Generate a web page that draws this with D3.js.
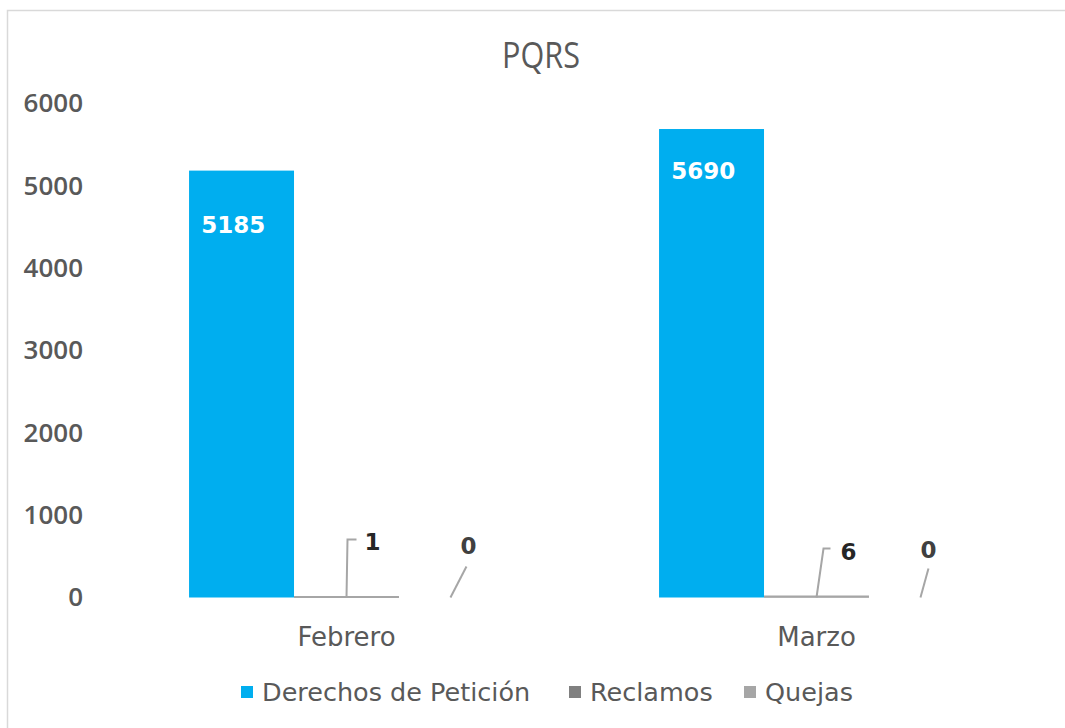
<!DOCTYPE html>
<html>
<head>
<meta charset="utf-8">
<script src="https://cdn.jsdelivr.net/npm/d3@7"></script>
<style>
  body { margin: 0; background: #fff; }
  svg { display: block; }
</style>
</head>
<body>
<svg></svg>
<script>
const width = 1065;
const height = 728;

// chart data
const categories = ['Febrero', 'Marzo'];
const series = ['Derechos de Petición', 'Reclamos', 'Quejas'];
const derechos = [5185, 5690];
const reclamos = [1, 6];
const quejas = [0, 0];
const yTicks = [0, 1000, 2000, 3000, 4000, 5000, 6000];

const values = [derechos, reclamos, quejas];
const colors = ['#00aeef', '#808080', '#a6a6a6'];
const textColor = '#595959';

// callout label offsets (dx, dy from bar centre / baseline), per series then category
const callouts = {
  1: [ { pts: [[0, 0], [1, -58], [10, -58]], tx: 26, ty: -56 },
       { pts: [[0, 0], [7, -49], [14, -49]], tx: 32, ty: -46 } ],
  2: [ { pts: [[-1, 0], [15, -31]], tx: 17, ty: -52 },
       { pts: [[-1, 0], [7, -29]], tx: 7, ty: -48 } ]
};

const svg = d3.select('svg')
              .attr('width', width)
              .attr('height', height);

// outer chart border
svg.append('rect')
   .attr('x', 7.5).attr('y', 10.5)
   .attr('width', 1070).attr('height', 740)
   .attr('fill', 'none')
   .attr('stroke', '#d9d9d9')
   .attr('stroke-width', 1.5);

const x0 = d3.scaleBand()
             .domain(categories)
             .range([111.5, 1051.5])
             .paddingInner(0.33)
             .paddingOuter(0.165);

const x1 = d3.scaleBand()
             .domain(series)
             .range([0, x0.bandwidth()]);

const y = d3.scaleLinear()
            .domain([0, 6000])
            .range([597.5, 103.5]);

// title
svg.append('text')
   .attr('x', 541).attr('y', 68)
   .attr('text-anchor', 'middle')
   .attr('font-family', 'Open Sans')
   .attr('font-size', 36)
   .attr('fill', textColor)
   .attr('transform', 'translate(541,0) scale(0.85,1) translate(-541,0)')
   .text('PQRS');

// y axis labels only (no line, no ticks)
const yAxis = svg.append('g')
                 .attr('transform', 'translate(83,0)')
                 .call(d3.axisLeft(y).tickValues(yTicks).tickFormat(d3.format('d'))
                         .tickSize(0).tickPadding(0));
yAxis.select('.domain').remove();
yAxis.selectAll('text')
     .attr('font-family', 'Open Sans')
     .attr('font-weight', 600)
     .attr('font-size', 26)
     .attr('fill', textColor);

// category axis labels
const xAxis = svg.append('g')
                 .attr('transform', 'translate(0,' + y(0) + ')')
                 .call(d3.axisBottom(x0).tickSize(0).tickPadding(30));
xAxis.select('.domain').remove();
xAxis.selectAll('text')
     .attr('font-family', 'DejaVu Sans')
     .attr('font-size', 26)
     .attr('fill', textColor);

// bars
const bars = [];
series.forEach((s, si) => {
  categories.forEach((c, ci) => {
    bars.push({ series: s, si: si, cat: c, ci: ci, value: values[si][ci] });
  });
});

svg.append('g')
   .selectAll('rect')
   .data(bars)
   .enter()
   .append('rect')
     .attr('x', d => x0(d.cat) + x1(d.series))
     .attr('y', d => y(d.value))
     .attr('width', x1.bandwidth())
     .attr('height', d => y(0) - y(d.value))
     .attr('fill', d => colors[d.si]);

// thin baseline where the tiny Reclamos bars sit
svg.append('g')
   .selectAll('line')
   .data(bars.filter(d => d.si === 1))
   .enter()
   .append('line')
     .attr('x1', d => x0(d.cat) + x1(d.series))
     .attr('x2', d => x0(d.cat) + x1(d.series) + x1.bandwidth())
     .attr('y1', d => y(d.value) - 0.5)
     .attr('y2', d => y(d.value) - 0.5)
     .attr('stroke', '#a6a6a6')
     .attr('stroke-width', 2);

// labels inside the big bars
svg.append('g')
   .selectAll('text')
   .data(bars.filter(d => d.si === 0))
   .enter()
   .append('text')
     .attr('x', d => x0(d.cat) + x1(d.series) + x1.bandwidth() * 0.42)
     .attr('y', d => y(d.value) + (d.ci === 0 ? 62 : 50))
     .attr('text-anchor', 'middle')
     .attr('font-family', 'DejaVu Sans')
     .attr('font-weight', 'bold')
     .attr('font-size', 23)
     .attr('fill', '#ffffff')
     .text(d => d.value);

// callout labels for the small bars
const small = bars.filter(d => d.si > 0);
const centre = d => x0(d.cat) + x1(d.series) + x1.bandwidth() / 2;

svg.append('g')
   .selectAll('polyline')
   .data(small)
   .enter()
   .append('polyline')
     .attr('points', d => callouts[d.si][d.ci].pts
                            .map(p => (centre(d) + p[0]) + ',' + (y(0) + p[1]))
                            .join(' '))
     .attr('fill', 'none')
     .attr('stroke', '#a6a6a6')
     .attr('stroke-width', 2);

svg.append('g')
   .selectAll('text')
   .data(small)
   .enter()
   .append('text')
     .attr('x', d => centre(d) + callouts[d.si][d.ci].tx)
     .attr('y', d => y(0) + callouts[d.si][d.ci].ty)
     .attr('text-anchor', 'middle')
     .attr('dominant-baseline', 'central')
     .attr('font-family', 'DejaVu Sans')
     .attr('font-weight', 'bold')
     .attr('font-size', 23)
     .attr('fill', d => d.si === 1 ? '#262626' : '#404040')
     .text(d => d.value);

// legend
const legendX = [241, 569, 744];
const legend = svg.append('g')
                  .selectAll('g')
                  .data(series)
                  .enter()
                  .append('g')
                    .attr('transform', (d, i) => 'translate(' + legendX[i] + ',692)');

legend.append('rect')
      .attr('x', 0).attr('y', -6)
      .attr('width', 12).attr('height', 12)
      .attr('fill', (d, i) => colors[i]);

legend.append('text')
      .attr('x', 21)
      .attr('y', 0)
      .attr('dominant-baseline', 'central')
      .attr('font-family', 'DejaVu Sans')
      .attr('font-size', 25.5)
      .attr('fill', textColor)
      .text(d => d);
</script>
</body>
</html>
